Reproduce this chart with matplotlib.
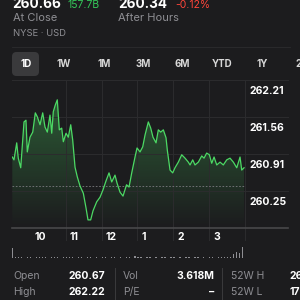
import numpy as np
import matplotlib.pyplot as plt
from matplotlib.colors import to_rgb

#####DATA######
# minutes since 9:30 open, price
minutes = [0.5, 3.3, 7.9, 10.5, 14.6, 20.1, 23.4, 25.6, 30.1, 34.7, 39.0, 42.4, 46.9, 51.4,
           55.2, 59.1, 63.6, 66.5, 69.1, 72.5, 75.8, 79.2, 83.2, 85.9, 90.4, 94.2, 98.3,
           101.6, 105.5, 109.3, 113.8, 119.4, 123.9, 127.2, 131.7, 135.6, 141.8, 147.3,
           152.3, 157.4, 162.4, 166.9, 172.4, 175.8, 180.8, 185.8, 191.7, 195.9, 200.4,
           205.9, 209.3, 214.3, 218.8, 222.7, 228.2, 232.2, 236.0, 241.1, 244.9, 248.9,
           253.3, 257.8, 260.0, 264.5, 269.0, 272.8, 278.4, 284.1, 289.6, 295.1, 298.0,
           302.5, 306.3, 311.9, 317.6, 321.4, 325.9, 330.3, 334.3, 338.2, 342.7, 348.2,
           353.7, 359.4, 364.9, 370.5, 376.2, 381.7, 384.5, 388.4]
prices = [260.85, 260.80, 261.10, 260.83, 260.66, 261.47, 261.50, 260.94, 261.20, 261.29,
          261.63, 261.56, 261.42, 261.63, 261.38, 261.29, 261.59, 261.27, 261.65, 261.77,
          261.86, 261.33, 261.36, 261.12, 261.27, 261.20, 261.42, 261.15, 260.67, 260.50,
          260.34, 260.21, 259.95, 259.74, 259.74, 259.90, 260.06, 260.14, 260.27, 260.43,
          260.57, 260.41, 260.53, 260.39, 260.23, 260.16, 260.36, 260.32, 260.57, 260.85,
          261.01, 260.94, 261.03, 261.24, 261.47, 261.36, 261.20, 261.10, 261.33, 261.29,
          261.33, 261.19, 260.97, 260.62, 260.57, 260.66, 260.76, 260.89, 260.83, 260.76,
          260.71, 260.80, 260.71, 260.76, 260.87, 260.83, 260.92, 260.89, 260.74, 260.85,
          260.71, 260.76, 260.71, 260.80, 260.83, 260.76, 260.66, 260.85, 260.62, 260.66]
prev_close = 260.34

# 5 minute volume bars (relative)
vol_minutes = list(range(0, 390, 5))
volumes = [8.0, 0.6, 0.5, 0.8, 0.4, 0.5, 0.6, 0.4, 0.5, 0.9, 0.5, 0.6, 0.4, 0.5, 0.7, 0.5,
           0.4, 0.6, 1.0, 0.6, 0.5, 0.4, 0.5, 0.6, 0.4, 0.5, 0.6, 0.4, 0.5, 0.4, 0.6, 0.5,
           0.4, 0.5, 0.6, 0.4, 0.5, 0.4, 0.6, 0.5, 0.4, 1.5, 0.6, 0.5, 0.4, 0.5, 0.6, 0.4,
           0.5, 0.4, 0.6, 0.5, 0.4, 0.5, 0.6, 0.4, 0.5, 0.4, 0.6, 0.5, 0.4, 0.5, 0.6, 0.4,
           0.5, 0.4, 0.6, 0.5, 0.4, 0.5, 0.6, 0.5, 0.7, 0.9, 3.0, 5.0, 4.0, 9.5]

ytick_vals = [262.21, 261.56, 260.91, 260.25]
ytick_labels = ['262.21', '261.56', '260.91', '260.25']
hour_minutes = [30, 90, 150, 210, 270, 330]
hour_labels = ['10', '11', '12', '1', '2', '3']
ranges = ['1D', '1W', '1M', '3M', '6M', 'YTD', '1Y', '2Y']

BG = '#1c1c1e'
GREEN = '#4cd964'
GRAY = '#8e8e93'
GRID = '#2c2c2e'

plt.rcParams['font.family'] = ['Inter', 'DejaVu Sans']

fig = plt.figure(figsize=(3, 3), dpi=100, facecolor=BG)

def fx(px):
    return px / 300

def fy(py):
    return 1 - py / 300

def label(px, py, s, size=7.5, color='white', weight='normal', ha='left'):
    fig.text(fx(px), fy(py), s, fontsize=size, color=color, weight=weight, ha=ha, va='center')

####HEADER######
label(12, 3.5, '260.66', size=9.8, weight='bold')
label(68, 4.5, '157.7B', size=7.5, color='#34c759')
label(118, 3.5, '260.34', size=9.8, weight='bold')
label(175, 4.5, '-0.12%', size=7.5, color='#ff453a')
label(13, 18, 'At Close', size=8, color=GRAY)
label(118, 18, 'After Hours', size=8, color=GRAY)
label(13, 34, 'NYSE · USD', size=6.8, color=GRAY)
fig.add_artist(plt.Line2D([fx(12), fx(290)], [fy(47), fy(47)], color=GRID, lw=0.6))

# range buttons
btn = plt.matplotlib.patches.FancyBboxPatch((fx(12), fy(76)), fx(27), 24 / 300,
                                            boxstyle='round,pad=0,rounding_size=0.015',
                                            transform=fig.transFigure, color='#3a3a3c', lw=0)
fig.add_artist(btn)
btn_x = [26, 64, 104, 143, 182, 222, 262, 302]
for bx, r in zip(btn_x, ranges):
    fig.text(fx(bx), fy(64), r, fontsize=7, color='white' if r == '1D' else '#d8d8d8',
             weight='bold', ha='center', va='center')

####PRICE CHART######
ax = fig.add_axes([fx(12), fy(228), 233 / 300, 148 / 300])
ax.set_facecolor(BG)
ax.set_xlim(0, 390)
top = 262.21
bottom = top - 148 * 0.6533 / 37
ax.set_ylim(bottom, top)
ax.axis('off')

for v in ytick_vals:
    ax.axhline(v, xmin=0, xmax=(288 - 12) / 233, color=GRID, lw=0.7, clip_on=False)
for m in hour_minutes[1:] + [390]:
    ax.axvline(m, ymin=-(240 - 228) / 148, ymax=1, color=GRID, lw=0.7, clip_on=False)
ax.axhline(bottom, xmin=0, xmax=(288 - 12) / 233, color='#48484a', lw=1.2, clip_on=False)
ax.axhline(prev_close, color='#7c7c80', lw=0.6, ls=(0, (2, 2)))

# gradient fill under line
poly = ax.fill_between(minutes, prices, bottom, color='none', lw=0)
grad = np.zeros((100, 1, 4))
grad[:, 0, :3] = to_rgb(GREEN)
grad[:, 0, 3] = np.linspace(0.38, 0.0, 100)
img = ax.imshow(grad, extent=[0, 390, bottom, top], aspect='auto', origin='upper', zorder=1)
path = poly.get_paths()[0]
img.set_clip_path(path, transform=ax.transData)
ax.plot(minutes, prices, color=GREEN, lw=0.9, zorder=3)

for v, t in zip(ytick_vals, ytick_labels):
    ax.text(1.02, (v - bottom) / (top - bottom) - 11 / 148, t, transform=ax.transAxes,
            fontsize=7.5, color='white', weight='bold', ha='left', va='center')
for m, t in zip(hour_minutes, hour_labels):
    ax.text(m + 7, bottom, t, fontsize=7.5, color='white', weight='bold',
            ha='left', va='center', transform=ax.transData + plt.matplotlib.transforms.ScaledTranslation(0, -9 / 100, fig.dpi_scale_trans))

####VOLUME######
vax = fig.add_axes([fx(12), fy(258), 233 / 300, 12 / 300])
vax.set_xlim(0, 390)
vax.set_ylim(0, 10)
vax.axis('off')
vax.bar(vol_minutes, volumes, width=2.2, align='edge', color='#8e8e93', lw=0)

####STATS TABLE######
rows_y = [276, 292]
label(13, rows_y[0], 'Open', size=7.5, color=GRAY)
label(105, rows_y[0], '260.67', size=7.5, weight='bold', ha='right')
label(13, rows_y[1], 'High', size=7.5, color=GRAY)
label(105, rows_y[1], '262.22', size=7.5, weight='bold', ha='right')
label(123, rows_y[0], 'Vol', size=7.5, color=GRAY)
label(214, rows_y[0], '3.618M', size=7.5, weight='bold', ha='right')
label(123, rows_y[1], 'P/E', size=7.5, color=GRAY)
label(214, rows_y[1], '–', size=7.5, weight='bold', ha='right')
label(231, rows_y[0], '52W H', size=7.5, color=GRAY)
label(290, rows_y[0], '26', size=7.5, weight='bold')
label(231, rows_y[1], '52W L', size=7.5, color=GRAY)
label(290, rows_y[1], '17', size=7.5, weight='bold')
for sx in [115, 222]:
    fig.add_artist(plt.Line2D([fx(sx), fx(sx)], [fy(268), fy(300)], color='#3a3a3c', lw=0.7))

fig.savefig('out.png', dpi=100, facecolor=BG)
plt.close()
